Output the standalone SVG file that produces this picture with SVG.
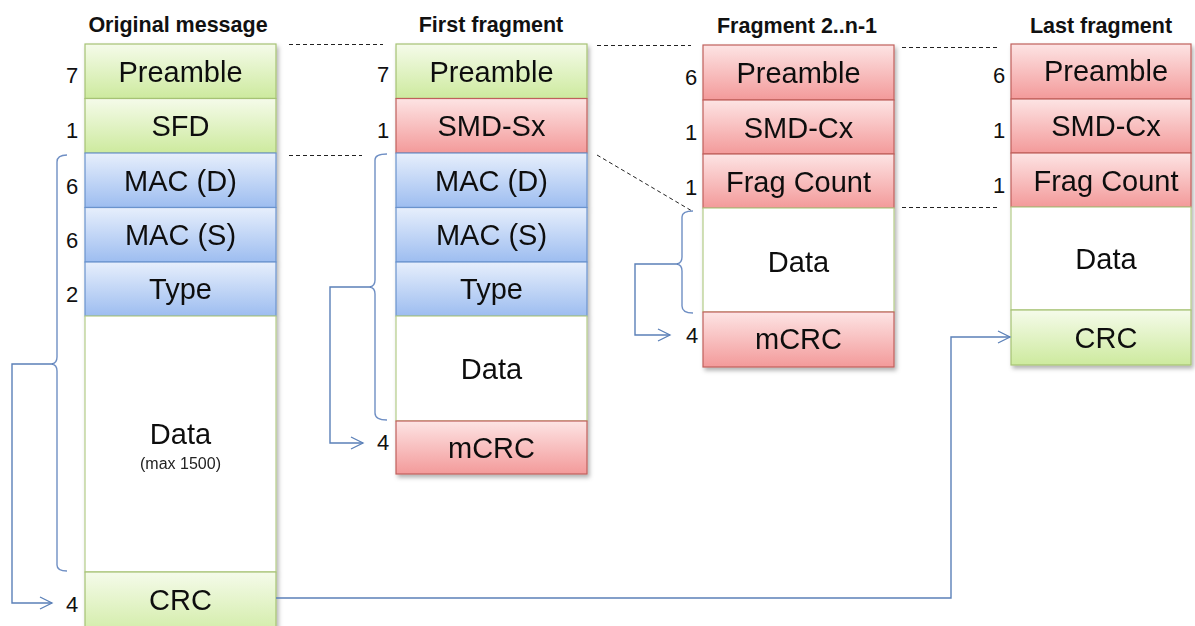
<svg xmlns="http://www.w3.org/2000/svg" width="1195" height="626" viewBox="0 0 1195 626">
  <defs>
    <linearGradient id="gradGreen" x1="0" y1="0" x2="0" y2="1">
      <stop offset="0" stop-color="#f5fbea"/>
      <stop offset="1" stop-color="#cdea9e"/>
    </linearGradient>
    <linearGradient id="gradBlue" x1="0" y1="0" x2="0" y2="1">
      <stop offset="0" stop-color="#e7effc"/>
      <stop offset="1" stop-color="#9dbdf0"/>
    </linearGradient>
    <linearGradient id="gradRed" x1="0" y1="0" x2="0" y2="1">
      <stop offset="0" stop-color="#fde4e4"/>
      <stop offset="1" stop-color="#f39a9a"/>
    </linearGradient>
    <filter id="shadow" x="-10%" y="-10%" width="125%" height="125%">
      <feDropShadow dx="2" dy="3" stdDeviation="2" flood-color="#000" flood-opacity="0.3"/>
    </filter>
    <marker id="arrow" markerUnits="userSpaceOnUse" markerWidth="16" markerHeight="16" viewBox="-14 -8 16 16" refX="0" refY="0" orient="auto">
      <path d="M -12,-6 L 0,0 L -12,6" fill="none" stroke="#5b80b8" stroke-width="1.3"/>
    </marker>
    <style>
      .g { fill: url(#gradGreen); stroke: #a6c274; stroke-width: 1.2; }
      .b { fill: url(#gradBlue); stroke: #6b93cd; stroke-width: 1.2; }
      .r { fill: url(#gradRed); stroke: #c0605c; stroke-width: 1.2; }
      .w { fill: #ffffff; stroke: #b4cc88; stroke-width: 1.2; }
      .lbl { font-family: "Liberation Sans", Arial, sans-serif; font-size: 29px; fill: #111; text-anchor: middle; }
      .small { font-family: "Liberation Sans", Arial, sans-serif; font-size: 16px; fill: #222; text-anchor: middle; }
      .num { font-family: "Liberation Sans", Arial, sans-serif; font-size: 22px; fill: #111; text-anchor: middle; }
      .title { font-family: "Liberation Sans", Arial, sans-serif; font-size: 21.5px; font-weight: bold; fill: #111; text-anchor: middle; }
      .dash { fill: none; stroke: #222; stroke-width: 1; stroke-dasharray: 4 3; }
      .conn { fill: none; stroke: #5b80b8; stroke-width: 1.4; }
      .brace { fill: none; stroke: #6f8fc4; stroke-width: 1.4; }
    </style>
  </defs>

  <rect width="1195" height="626" fill="#ffffff"/>

  <!-- column titles -->
  <g id="titles">
    <text class="title" x="178" y="32">Original message</text>
    <text class="title" x="491" y="32">First fragment</text>
    <text class="title" x="797" y="33">Fragment 2..n-1</text>
    <text class="title" x="1101" y="33">Last fragment</text>
  </g>

  <!-- Original message -->
  <g id="original" filter="url(#shadow)">
    <g id="orig-preamble"><rect class="g" x="85" y="44" width="191" height="54.5"/><text class="lbl" x="180.5" y="82">Preamble</text></g>
    <g id="orig-sfd"><rect class="g" x="85" y="98.5" width="191" height="54.5"/><text class="lbl" x="180.5" y="136">SFD</text></g>
    <g id="orig-macd"><rect class="b" x="85" y="153" width="191" height="54.5"/><text class="lbl" x="180.5" y="191">MAC (D)</text></g>
    <g id="orig-macs"><rect class="b" x="85" y="207.5" width="191" height="54.5"/><text class="lbl" x="180.5" y="245">MAC (S)</text></g>
    <g id="orig-type"><rect class="b" x="85" y="262" width="191" height="54"/><text class="lbl" x="180.5" y="299">Type</text></g>
    <g id="orig-data"><rect class="w" x="85" y="316" width="191" height="256"/><text class="lbl" x="180.5" y="444">Data</text><text class="small" x="180.5" y="469">(max 1500)</text></g>
    <g id="orig-crc"><rect class="g" x="85" y="572" width="191" height="70"/><text class="lbl" x="180.5" y="610">CRC</text></g>
  </g>
  <g id="orig-sizes">
    <text class="num" x="72" y="83">7</text>
    <text class="num" x="72" y="138">1</text>
    <text class="num" x="72" y="194">6</text>
    <text class="num" x="72" y="248">6</text>
    <text class="num" x="72" y="302">2</text>
    <text class="num" x="72" y="612">4</text>
  </g>

  <!-- First fragment -->
  <g id="first" filter="url(#shadow)">
    <g id="first-preamble"><rect class="g" x="396" y="44" width="191" height="54.5"/><text class="lbl" x="491.5" y="82">Preamble</text></g>
    <g id="first-smd"><rect class="r" x="396" y="98.5" width="191" height="54.5"/><text class="lbl" x="491.5" y="136">SMD-Sx</text></g>
    <g id="first-macd"><rect class="b" x="396" y="153" width="191" height="54.5"/><text class="lbl" x="491.5" y="191">MAC (D)</text></g>
    <g id="first-macs"><rect class="b" x="396" y="207.5" width="191" height="54.5"/><text class="lbl" x="491.5" y="245">MAC (S)</text></g>
    <g id="first-type"><rect class="b" x="396" y="262" width="191" height="54"/><text class="lbl" x="491.5" y="299">Type</text></g>
    <g id="first-data"><rect class="w" x="396" y="316" width="191" height="105"/><text class="lbl" x="491.5" y="379">Data</text></g>
    <g id="first-mcrc"><rect class="r" x="396" y="421" width="191" height="53"/><text class="lbl" x="491.5" y="458">mCRC</text></g>
  </g>
  <g id="first-sizes">
    <text class="num" x="383" y="82">7</text>
    <text class="num" x="383" y="138">1</text>
    <text class="num" x="383" y="450">4</text>
  </g>

  <!-- Fragment 2..n-1 -->
  <g id="middle" filter="url(#shadow)">
    <g id="mid-preamble"><rect class="r" x="703" y="45" width="191" height="55"/><text class="lbl" x="798.5" y="83">Preamble</text></g>
    <g id="mid-smd"><rect class="r" x="703" y="100" width="191" height="54"/><text class="lbl" x="798.5" y="138">SMD-Cx</text></g>
    <g id="mid-count"><rect class="r" x="703" y="154" width="191" height="54"/><text class="lbl" x="798.5" y="192">Frag Count</text></g>
    <g id="mid-data"><rect class="w" x="703" y="208" width="191" height="104"/><text class="lbl" x="798.5" y="272">Data</text></g>
    <g id="mid-mcrc"><rect class="r" x="703" y="312" width="191" height="55"/><text class="lbl" x="798.5" y="349">mCRC</text></g>
  </g>
  <g id="mid-sizes">
    <text class="num" x="691" y="85">6</text>
    <text class="num" x="691" y="140">1</text>
    <text class="num" x="691" y="195">1</text>
    <text class="num" x="692" y="343">4</text>
  </g>

  <!-- Last fragment -->
  <g id="last" filter="url(#shadow)">
    <g id="last-preamble"><rect class="r" x="1011" y="44" width="180" height="55"/><text class="lbl" x="1106" y="81">Preamble</text></g>
    <g id="last-smd"><rect class="r" x="1011" y="99" width="180" height="54"/><text class="lbl" x="1106" y="136">SMD-Cx</text></g>
    <g id="last-count"><rect class="r" x="1011" y="153" width="180" height="54"/><text class="lbl" x="1106" y="191">Frag Count</text></g>
    <g id="last-data"><rect class="w" x="1011" y="207" width="180" height="103"/><text class="lbl" x="1106" y="269">Data</text></g>
    <g id="last-crc"><rect class="g" x="1011" y="310" width="180" height="55"/><text class="lbl" x="1106" y="348">CRC</text></g>
  </g>
  <g id="last-sizes">
    <text class="num" x="999" y="83">6</text>
    <text class="num" x="999" y="138">1</text>
    <text class="num" x="999" y="193">1</text>
  </g>

  <!-- dashed alignment guides -->
  <g id="guides">
    <path class="dash" d="M 289,44.5 H 383"/>
    <path class="dash" d="M 289,155.5 H 362"/>
    <path class="dash" d="M 597,45.5 H 691"/>
    <path class="dash" d="M 597,155 L 692,211"/>
    <path class="dash" d="M 902,47.5 H 997"/>
    <path class="dash" d="M 902,207.5 H 997"/>
  </g>

  <!-- braces spanning the CRC-covered fields -->
  <g id="braces">
    <path class="brace" d="M 67,155 Q 57,155 57,162 V 357 Q 57,363 52,364 Q 57,365 57,371 V 565 Q 57,571 67,571"/>
    <path class="brace" d="M 387,154 Q 375,154 375,160 V 280 Q 375,286 370,287 Q 375,288 375,294 V 413 Q 375,420 387,420"/>
    <path class="brace" d="M 693,211 Q 682,211 682,217 V 257 Q 682,263 677,264 Q 682,265 682,271 V 306 Q 682,313 693,313"/>
  </g>

  <!-- connectors -->
  <g id="connectors">
    <path class="conn" d="M 53,364 H 12 V 603 H 52" marker-end="url(#arrow)"/>
    <path class="conn" d="M 371,287 H 330 V 443 H 363" marker-end="url(#arrow)"/>
    <path class="conn" d="M 678,264 H 635 V 335 H 670" marker-end="url(#arrow)"/>
    <path class="conn" d="M 276,598 H 951 V 337 H 1010" marker-end="url(#arrow)"/>
  </g>
</svg>
